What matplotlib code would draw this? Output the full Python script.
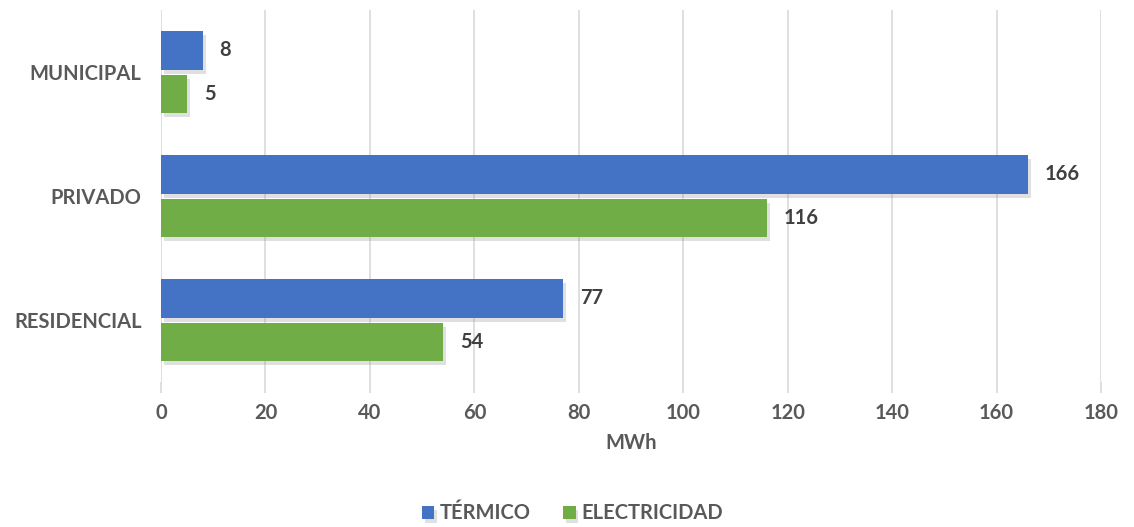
import matplotlib
matplotlib.use('Agg')
import matplotlib.pyplot as plt
import matplotlib.patheffects as pe
import numpy as np

# data
categories = ['MUNICIPAL', 'PRIVADO', 'RESIDENCIAL']
termico = [8, 166, 77]
electricidad = [5, 116, 54]
x_ticks = [0, 20, 40, 60, 80, 100, 120, 140, 160, 180]

plt.rcParams['font.family'] = ['Lato', 'DejaVu Sans']

blue = '#4472C4'
green = '#70AD47'
txt = '#595959'
fs = 14.5

fig = plt.figure(figsize=(11.34, 5.27), dpi=100)
ax = fig.add_axes([0.142, 0.275, 0.829, 0.706])

y = np.arange(len(categories))
h = 0.31
gap = 0.02
shadow = [pe.SimplePatchShadow(offset=(2, -3), shadow_rgbFace='#999999', alpha=0.3), pe.Normal()]

b1 = ax.barh(y - h/2 - gap, termico, height=h, color=blue, label='TÉRMICO', zorder=3)
b2 = ax.barh(y + h/2 + gap, electricidad, height=h, color=green, label='ELECTRICIDAD', zorder=3)
for b in list(b1) + list(b2):
    b.set_path_effects(shadow)

# value labels at the end of each bar
for yi, v in zip(y - h/2 - gap, termico):
    ax.text(v + 3.2, yi, str(v), va='center', ha='left', fontsize=fs,
            fontweight='bold', color='#404040')
for yi, v in zip(y + h/2 + gap, electricidad):
    ax.text(v + 3.2, yi, str(v), va='center', ha='left', fontsize=fs,
            fontweight='bold', color='#404040')

ax.set_xlim(0, 180)
ax.set_ylim(len(categories) - 0.5, -0.5)
ax.set_xticks(x_ticks)
ax.set_yticks(y)
ax.set_yticklabels(categories)

for s in ax.spines.values():
    s.set_visible(False)
ax.grid(axis='x', color='#d9d9d9', linewidth=1.2, zorder=0)
ax.tick_params(axis='x', length=8, color='#d9d9d9', width=1.2, pad=7,
               labelsize=fs, labelcolor=txt)
ax.tick_params(axis='y', length=0, pad=14, labelsize=fs, labelcolor=txt)
for lab in ax.get_xticklabels() + ax.get_yticklabels():
    lab.set_fontweight('bold')

ax.set_xlabel('MWh', fontsize=fs, fontweight='bold', color=txt, labelpad=7)

fig.legend(handles=[b1, b2], loc='center', bbox_to_anchor=(0.505, 0.026),
           ncol=2, frameon=False, handlelength=0.6, handleheight=0.6,
           handletextpad=0.3, columnspacing=1.6,
           prop={'size': fs, 'weight': 'bold'}, labelcolor=txt)

fig.savefig('out.png', dpi=100)
